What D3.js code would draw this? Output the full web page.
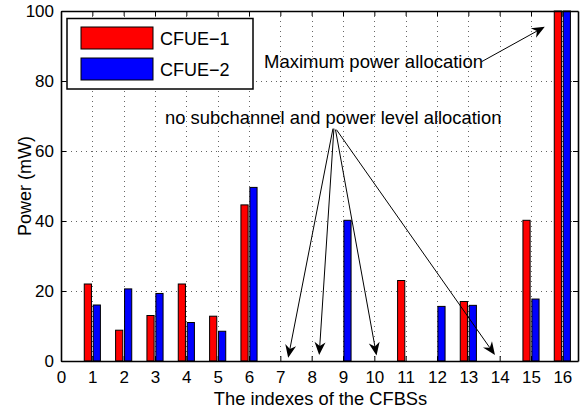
<!DOCTYPE html>
<html>
<head>
<meta charset="utf-8">
<script src="https://cdn.jsdelivr.net/npm/d3@7"></script>
<style>
  html, body { margin: 0; padding: 0; background: #fff; }
  svg { display: block; font-family: "Liberation Sans", Arial, Helvetica, sans-serif; }
</style>
</head>
<body>
<svg id="chart" width="580" height="412"></svg>
<script>
// CFBS indexes and transmit power (mW) allocated to each CFUE
const cfbs = d3.range(1, 17);
const cfue1 = [22, 8.8, 13, 22, 12.8, 44.6, 0, 0, 0, 0, 23, 0, 17, 0, 40.2, 100];
const cfue2 = [16, 20.6, 19.3, 11, 8.5, 49.6, 0, 0, 40.2, 0, 0, 15.6, 15.9, 0, 17.7, 100];
const seriesNames = ["CFUE\u22121", "CFUE\u22122"];
const seriesColors = ["#ff0000", "#0000ff"];
const xTickValues = d3.range(0, 17);
const yTickValues = [0, 20, 40, 60, 80, 100];

// Annotation callouts, in data units (CFBS index, power)
const maxNote = { text: "Maximum power allocation", x: 6.48, y: 83.8 };
const maxArrow = { from: [13.42, 85.5], to: [15.44, 95.5] };
const noneNote = { text: "no subchannel and power level allocation", x: 3.32, y: 67.7 };
const noneArrows = [
  { from: [8.68, 66.4], to: [7.25, 0.9] },
  { from: [8.71, 66.4], to: [8.24, 1.7] },
  { from: [8.76, 66.1], to: [10.07, 1.6] },
  { from: [8.79, 66.1], to: [13.85, 1.7] }
];

const svg = d3.select("#chart");
const margin = { left: 61, right: 2, top: 11, bottom: 51 };
const W = 580, H = 412;
const iw = W - margin.left - margin.right;
const ih = H - margin.top - margin.bottom;

const x = d3.scaleLinear().domain([0, 16.5]).range([0, iw]);
const y = d3.scaleLinear().domain([0, 100]).range([ih, 0]);

const g = svg.append("g").attr("transform", `translate(${margin.left},${margin.top})`);

// dotted grid
const grid = g.append("g").attr("stroke", "#666").attr("stroke-width", 1)
  .attr("stroke-dasharray", "1,4");
grid.selectAll("line.v").data(xTickValues.filter(d => d > 0)).join("line")
  .attr("x1", d => Math.round(x(d)) + 0.5).attr("x2", d => Math.round(x(d)) + 0.5)
  .attr("y1", 0).attr("y2", ih);
grid.selectAll("line.h").data(yTickValues.filter(d => d > 0 && d < 100)).join("line")
  .attr("y1", d => Math.round(y(d)) + 0.5).attr("y2", d => Math.round(y(d)) + 0.5)
  .attr("x1", 0).attr("x2", iw);

// grouped bars
const barW = 0.229;
const offsets = [-0.143, 0.143];
const series = [cfue1, cfue2];
series.forEach((vals, si) => {
  g.append("g").selectAll("rect").data(vals.map((v, i) => ({ i: cfbs[i], v })).filter(d => d.v > 0))
    .join("rect")
    .attr("x", d => x(d.i + offsets[si] - barW / 2))
    .attr("width", x(barW) - x(0))
    .attr("y", d => y(d.v))
    .attr("height", d => y(0) - y(d.v))
    .attr("fill", seriesColors[si])
    .attr("stroke", "#000")
    .attr("stroke-width", 1);
});

// axes with inward ticks on all four sides
const fs = "17px";
const ax = g.append("g").attr("transform", `translate(0,${ih})`)
  .call(d3.axisBottom(x).tickValues(xTickValues).tickSizeInner(-5).tickSizeOuter(0).tickPadding(10));
const ay = g.append("g")
  .call(d3.axisLeft(y).tickValues(yTickValues).tickSizeInner(-5).tickSizeOuter(0).tickPadding(7));
const at = g.append("g")
  .call(d3.axisTop(x).tickValues(xTickValues).tickSizeInner(-5).tickSizeOuter(0).tickFormat(""));
const ar = g.append("g").attr("transform", `translate(${iw},0)`)
  .call(d3.axisRight(y).tickValues(yTickValues).tickSizeInner(-5).tickSizeOuter(0).tickFormat(""));
[ax, ay, at, ar].forEach(a => {
  a.selectAll(".domain").attr("stroke", "#000").attr("stroke-width", 1.6);
  a.selectAll(".tick line").attr("stroke", "#000");
  a.selectAll("text").attr("font-size", fs).attr("fill", "#000")
    .attr("font-family", "'Liberation Sans', Arial, sans-serif");
});

// axis titles
svg.append("text")
  .attr("x", margin.left + iw / 2 + 1).attr("y", 405)
  .attr("text-anchor", "middle").attr("font-size", "18.3px").attr("fill", "#000")
  .text("The indexes of the CFBSs");
svg.append("text")
  .attr("transform", `translate(31,${margin.top + ih / 2}) rotate(-90)`)
  .attr("text-anchor", "middle").attr("font-size", "18px").attr("fill", "#000")
  .text("Power (mW)");

// legend
const leg = svg.append("g");
leg.append("rect").attr("x", 67).attr("y", 18.5).attr("width", 186).attr("height", 70.5)
  .attr("fill", "#fff").attr("stroke", "#000").attr("stroke-width", 1.5);
seriesNames.forEach((name, i) => {
  leg.append("rect").attr("x", 81).attr("y", 27 + i * 31).attr("width", 72).attr("height", 22)
    .attr("fill", seriesColors[i]).attr("stroke", "#000").attr("stroke-width", 1);
  leg.append("text").attr("x", 160).attr("y", 44.5 + i * 31)
    .attr("font-size", "18px").attr("fill", "#000").text(name);
});

// annotations
function arrow(from, to) {
  const x1 = x(from[0]), y1 = y(from[1]), x2 = x(to[0]), y2 = y(to[1]);
  const ang = Math.atan2(y2 - y1, x2 - x1);
  const L = 13, hw = 5.5, back = 4;
  g.append("line").attr("x1", x1).attr("y1", y1)
    .attr("x2", x2 - Math.cos(ang) * (L - back)).attr("y2", y2 - Math.sin(ang) * (L - back))
    .attr("stroke", "#000").attr("stroke-width", 1);
  const ca = Math.cos(ang), sa = Math.sin(ang);
  const pt = (along, perp) => [x2 - ca * along - sa * perp, y2 - sa * along + ca * perp];
  const pts = [pt(0, 0), pt(L, hw), pt(L - back, 0), pt(L, -hw)];
  g.append("path").attr("d", "M" + pts.map(p => p.join(",")).join("L") + "Z").attr("fill", "#000");
}

g.append("text").attr("x", x(maxNote.x)).attr("y", y(maxNote.y))
  .attr("font-size", "18.5px").attr("fill", "#000").text(maxNote.text);
arrow(maxArrow.from, maxArrow.to);

g.append("text").attr("x", x(noneNote.x)).attr("y", y(noneNote.y))
  .attr("font-size", "18.4px").attr("fill", "#000").text(noneNote.text);
noneArrows.forEach(a => arrow(a.from, a.to));
</script>
</body>
</html>
